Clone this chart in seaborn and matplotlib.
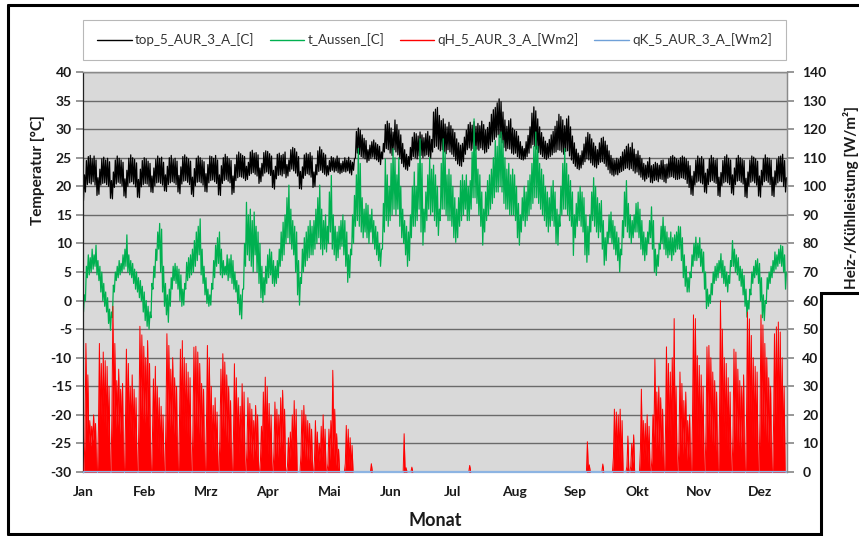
import numpy as np
import matplotlib
matplotlib.use('Agg')
import matplotlib.pyplot as plt
import seaborn as sns
from matplotlib.lines import Line2D
from matplotlib.patches import Rectangle

months = ['Jan', 'Feb', 'Mrz', 'Apr', 'Mai', 'Jun', 'Jul', 'Aug', 'Sep', 'Okt', 'Nov', 'Dez']
temp_ticks = list(range(-30, 45, 5))
power_ticks = list(range(0, 150, 10))
series_names = ['top_5_AUR_3_A_[C]', 't_Aussen_[C]', 'qH_5_AUR_3_A_[Wm2]', 'qK_5_AUR_3_A_[Wm2]']

# operative room temperature, daily max / min (one line = one week)
top_hi = [
    22.0, 24.5, 25.2, 25.4, 24.8, 25.3, 24.6,
    21.5, 23.0, 24.8, 25.1, 24.6, 24.9, 24.3,
    21.0, 22.5, 24.6, 25.3, 24.9, 24.6, 24.2,
    21.3, 22.8, 24.9, 25.5, 25.0, 24.7, 24.1,
    21.2, 23.0, 24.5, 25.0, 24.8, 24.4, 24.0,
    21.8, 23.2, 24.7, 25.3, 24.9, 25.1, 24.2,
    22.0, 23.5, 25.0, 25.4, 24.7, 24.9, 24.4,
    21.9, 23.4, 25.2, 25.5, 25.1, 24.8, 24.4,
    21.6, 23.1, 24.9, 25.3, 25.0, 24.6, 24.3,
    22.2, 23.8, 25.3, 25.2, 24.9, 25.4, 24.6,
    22.0, 23.6, 25.0, 25.6, 25.2, 24.8, 24.5,
    21.8, 23.8, 25.5, 26.0, 25.7, 25.4, 25.2,
    23.5, 24.2, 26.0, 26.3, 25.8, 25.9, 25.5,
    23.2, 24.0, 25.9, 26.2, 26.1, 25.7, 25.3,
    22.8, 23.5, 25.6, 25.8, 25.4, 25.6, 26.0,
    23.8, 24.6, 26.4, 26.8, 26.6, 26.0, 25.2,
    22.6, 23.4, 25.5, 25.8, 25.6, 25.9, 25.3,
    22.5, 23.8, 26.2, 26.9, 26.4, 25.8, 25.5,
    23.6, 24.5, 25.2, 25.0, 24.7, 25.3, 24.9,
    24.0, 24.4, 25.0, 24.6, 25.1, 24.5, 24.2,
    24.8, 29.6, 30.2, 29.8, 29.0, 28.4, 28.0,
    26.4, 27.2, 27.8, 28.1, 27.6, 27.3, 27.0,
    26.0, 27.5, 30.8, 31.4, 31.0, 30.2, 29.5,
    31.6, 30.8, 29.8, 29.0, 27.5, 26.4, 25.6,
    25.2, 26.8, 28.6, 29.4, 29.2, 28.8, 29.5,
    29.0, 28.5, 29.2, 29.6, 28.8, 28.2, 33.0,
    33.5, 33.8, 32.4, 31.5, 31.8, 30.9, 30.4,
    31.2, 30.6, 30.0, 29.4, 28.3, 27.6, 27.2,
    27.5, 28.6, 29.8, 30.8, 31.2, 30.7, 31.3,
    30.5, 31.0, 30.6, 31.4, 30.8, 29.8, 30.3,
    31.2, 32.6, 33.4, 33.8, 34.6, 35.3, 34.8,
    33.0, 31.6, 30.5, 31.5, 31.8, 30.2, 29.8,
    29.6, 28.8, 27.8, 27.0, 26.6, 27.8, 28.9,
    30.4, 32.8, 33.9, 33.2, 31.8, 30.4, 29.4,
    28.6, 27.9, 27.5, 28.2, 29.0, 29.6, 30.5,
    31.4, 32.6, 32.2, 31.6, 30.6, 31.8, 32.3,
    30.4, 28.8, 27.6, 26.5, 25.8, 25.4, 26.2,
    27.4, 28.6, 29.4, 29.1, 28.3, 27.6, 27.0,
    26.4, 27.6, 28.4, 28.6, 27.9, 27.2, 26.2,
    25.4, 24.8, 24.6, 24.9, 24.7, 25.2, 26.0,
    26.4, 27.0, 27.4, 26.8, 27.6, 26.5, 25.6,
    26.2, 25.4, 24.8, 24.0, 23.7, 24.3, 25.0,
    23.6, 23.8, 24.2, 24.0, 23.7, 24.5, 24.6,
    23.8, 23.9, 24.8, 25.2, 25.4, 25.1, 24.8,
    24.6, 25.0, 25.3, 25.1, 24.8, 24.4, 23.6,
    21.8, 22.6, 24.6, 25.3, 24.9, 25.2, 24.7,
    22.3, 23.0, 24.8, 25.4, 25.0, 24.6, 24.8,
    21.6, 22.4, 24.5, 25.2, 25.5, 24.9, 24.6,
    22.0, 23.2, 24.9, 25.4, 25.0, 24.7, 24.5,
    21.4, 22.5, 24.6, 25.3, 25.1, 24.8, 24.4,
    21.8, 22.8, 24.8, 25.5, 25.0, 24.9, 24.6,
    21.6, 22.7, 24.7, 25.2, 25.3, 25.6, 24.5,
    21.5,
]
top_lo = [
    17.5, 19.0, 20.3, 20.6, 20.4, 20.8, 20.2,
    18.4, 18.6, 20.2, 20.5, 20.6, 20.3, 20.0,
    17.9, 17.8, 19.8, 20.4, 20.7, 20.5, 20.1,
    18.3, 18.0, 20.0, 20.6, 20.8, 20.4, 19.9,
    18.1, 18.0, 19.9, 20.3, 20.5, 20.4, 20.0,
    19.0, 18.9, 20.1, 20.6, 20.7, 20.5, 20.2,
    19.2, 19.1, 20.3, 20.6, 20.8, 20.6, 20.3,
    19.0, 18.7, 20.4, 20.9, 21.0, 20.7, 20.3,
    18.6, 18.2, 20.1, 20.7, 20.8, 20.6, 20.2,
    19.1, 19.0, 20.6, 21.0, 21.1, 20.8, 20.5,
    18.5, 18.4, 20.5, 21.0, 21.2, 20.9, 20.6,
    18.6, 18.9, 21.0, 21.5, 21.7, 21.6, 21.4,
    21.0, 21.2, 21.9, 22.2, 22.4, 22.1, 21.8,
    20.5, 20.8, 21.8, 22.3, 22.5, 22.2, 21.9,
    19.8, 19.5, 21.3, 21.9, 22.0, 21.8, 22.2,
    21.5, 21.8, 22.6, 23.0, 22.7, 22.3, 21.8,
    19.6, 19.5, 21.4, 21.9, 22.2, 22.0, 21.6,
    19.8, 20.0, 22.0, 22.6, 22.8, 22.4, 22.1,
    21.8, 22.0, 22.6, 22.8, 22.5, 22.7, 22.4,
    22.2, 22.4, 22.6, 22.5, 22.7, 22.3, 22.0,
    22.8, 25.0, 25.8, 25.6, 25.2, 25.0, 24.8,
    24.2, 24.5, 24.9, 25.1, 24.8, 24.6, 24.3,
    23.8, 24.8, 26.0, 26.6, 26.4, 25.8, 25.4,
    26.4, 26.0, 25.5, 24.8, 24.0, 23.4, 23.0,
    22.8, 23.5, 24.6, 25.2, 25.0, 24.8, 25.3,
    25.4, 25.0, 25.3, 25.5, 25.2, 24.9, 26.0,
    26.8, 27.0, 26.5, 26.2, 26.4, 26.0, 25.7,
    26.4, 26.0, 25.6, 25.2, 24.5, 23.9, 23.6,
    23.5, 24.3, 25.6, 26.4, 26.7, 26.3, 26.6,
    26.2, 26.5, 26.3, 26.7, 26.4, 25.8, 26.0,
    26.6, 27.2, 27.8, 28.2, 28.6, 29.0, 28.5,
    27.6, 26.8, 26.2, 26.6, 26.5, 25.8, 25.6,
    25.8, 25.2, 24.9, 24.7, 24.6, 24.8, 25.2,
    25.8, 26.7, 27.3, 27.0, 26.5, 25.9, 25.6,
    25.2, 24.9, 24.7, 25.0, 25.2, 25.5, 25.9,
    26.0, 26.4, 26.3, 26.0, 25.6, 26.1, 26.2,
    25.3, 24.6, 24.0, 23.5, 23.1, 22.9, 23.2,
    23.8, 24.3, 24.8, 24.6, 24.1, 23.7, 23.4,
    23.2, 23.8, 24.2, 24.3, 24.0, 23.5, 22.9,
    22.3, 22.0, 21.8, 22.1, 22.0, 22.4, 22.6,
    22.8, 23.1, 23.2, 22.9, 23.1, 22.7, 22.3,
    22.5, 22.0, 21.6, 21.2, 20.9, 21.3, 21.6,
    20.7, 20.6, 21.0, 21.1, 20.8, 21.3, 21.2,
    20.8, 20.6, 21.4, 21.6, 21.7, 21.5, 21.2,
    21.2, 21.3, 21.5, 21.4, 21.2, 20.5, 19.8,
    18.6, 18.4, 20.2, 20.7, 20.9, 20.6, 20.4,
    19.0, 18.8, 20.3, 20.8, 21.0, 20.7, 20.5,
    18.4, 18.2, 20.1, 20.6, 20.8, 20.6, 20.3,
    18.8, 18.5, 20.3, 20.9, 21.0, 20.7, 20.4,
    18.2, 18.0, 20.0, 20.7, 20.9, 20.6, 20.2,
    18.3, 18.1, 20.2, 20.8, 21.0, 20.7, 20.3,
    18.4, 18.2, 20.2, 20.6, 20.9, 20.8, 20.0,
    19.0,
]

# outdoor air temperature, daily max / min
aussen_hi = [
    1, 6, 8, 7.5, 9, 8, 9.7,
    7, 6, 5, 3, 1.5, 0.5, -1.5,
    -2, 2.7, 5, 6, 7, 6.5, 8,
    9, 11.5, 8, 7, 6.5, 5.5, 5,
    4, 3.5, 2.5, 1.5, 0, -1, -2,
    3, 6, 9, 12, 13.5, 12.5, 6,
    3, 1, 2, 4, 6, 6.5, 6,
    5.5, 4.5, 2, 3, 6.7, 7.5, 8,
    9, 10.5, 12, 13, 14.3, 9, 6,
    4, 2, 1, 3, 7, 9.7, 11,
    12, 9, 7, 6, 8, 7.3, 8,
    7, 5, 3.5, 2.7, 1, 2, 10,
    17.2, 15, 16, 14, 15.5, 13, 12,
    10, 6, 4, 6, 8, 9, 8.5,
    7, 6, 7, 9, 12, 13.7, 15,
    18, 20.2, 16, 14, 13, 12, 7,
    4, 9, 11, 12, 13, 14, 13,
    14, 16, 18, 20.2, 16, 14, 15,
    13, 19, 21.9, 15, 13, 12, 13,
    14, 15, 14, 12, 8, 9, 15,
    18.4, 22, 26.6, 24, 18, 16, 17,
    16.7, 15, 16, 14, 13, 12, 10,
    9, 17, 24.8, 22, 20, 24, 26.6,
    25, 22, 25, 20, 16, 14, 13,
    12, 15, 20, 22.5, 20, 24, 28.3,
    24, 16, 19, 22, 25, 23, 23.7,
    22, 20, 16, 24, 28.3, 26, 22,
    23, 22, 20, 18, 16, 18, 21,
    22, 21, 22, 20, 21, 26, 31.8,
    27, 23, 22, 19, 16, 19, 21,
    22, 23, 25, 28, 27, 29, 29.5,
    28, 25, 23, 24, 22, 23, 22,
    20, 17, 15, 18, 20, 19, 21,
    22, 24, 27, 29.5, 27, 24, 23,
    22, 20, 19, 18, 20, 21, 19,
    16, 15, 20, 24, 26.6, 24, 22,
    21, 19, 15, 17, 19, 20, 19,
    18, 15, 13, 15, 19, 21.5, 20,
    18, 17, 17.5, 14, 11, 12, 15,
    15.5, 14, 13, 12, 11, 9, 14,
    19, 21, 17, 15, 14, 15, 17,
    17.2, 16, 14, 12, 11, 12, 14,
    16.4, 14, 9, 8, 10, 13, 14.6,
    13, 12, 11, 12, 11, 11.5, 12,
    13, 12.9, 11, 8, 6, 4, 5,
    8, 10, 11.1, 10, 11, 9, 8.5,
    5, 2, 1, 3, 5, 6, 6.5,
    7, 8.2, 7, 6, 5, 4.4, 7,
    10.5, 9, 8, 7.5, 6, 5.5, 4.4,
    2, 0, 2, 5, 6, 7, 7.3,
    6.5, 4, 1, 0, 4, 5, 6,
    7, 8.5, 8, 9, 9.7, 9.5, 8,
    5,
]
aussen_lo = [
    -2, 0, 4, 4.5, 5, 5.5, 6,
    4.5, 3.5, 1.5, 0, -1, -2, -4,
    -5.2, -3, 1.5, 3.5, 4, 4.5, 5,
    5.5, 6, 5, 4.5, 4, 3, 2,
    1.5, 0.5, 0, -2, -3.5, -4.5, -5,
    -3, 2, 4, 7, 9, 5, 1.5,
    -1, -2.5, -3.8, -1, 2, 3.5, 3,
    2, 0, -1, -0.8, 2, 3.5, 4,
    4.5, 5, 6, 7, 8, 4.5, 3,
    1, -0.5, -1, -0.8, 2, 4, 6,
    6.5, 4.5, 4, 4.5, 4.5, 3.5, 4,
    3, 2, 1.5, -0.5, -2.5, -3.2, 2,
    6, 8, 7, 6, 5, 8, 5,
    3, 0.5, -0.3, 1, 3, 4, 4.5,
    3, 2.5, 3, 4, 6, 7, 8,
    10, 11, 10, 9, 8, 5, 1,
    -0.8, 3, 5, 6, 7, 7.5, 8,
    8, 9, 10, 11, 9, 8, 9,
    8.5, 10, 12, 9, 8, 7, 7.5,
    9, 9.5, 8, 6, 3.2, 4, 8,
    10, 13, 14, 13, 12, 11, 12,
    11, 10, 12, 10, 9, 8, 7,
    6, 9, 12, 14, 13, 14, 15,
    16, 15, 16, 13, 11, 10, 8,
    6, 7, 11, 13, 13, 14, 16,
    12, 9.7, 12, 14, 16, 15, 15.5,
    14, 13, 11.4, 14, 16, 16, 15,
    14, 14, 13, 11, 10.2, 11, 13,
    14, 15, 16, 14, 14, 16, 18,
    18, 17, 15, 13, 9.7, 12, 14,
    15, 16, 17, 18, 19, 19, 20,
    19, 17, 16, 16, 15, 15, 15,
    14, 11, 9.7, 12, 14, 13, 14,
    15, 16, 17, 18, 18, 17, 16,
    15, 14, 13, 12, 13, 14, 13,
    10, 9.7, 13, 15, 16, 16, 15,
    14, 13, 7.9, 11, 13, 14, 13,
    12, 8, 6.7, 8, 12, 14, 13,
    12, 11, 12, 9, 6.2, 7, 10,
    11, 10, 9, 8, 7, 5, 8,
    11, 13, 12, 11, 10, 11, 12,
    12, 11, 9, 8, 7, 8, 10,
    11, 9, 5, 4.4, 6, 9, 10,
    9, 8, 7.5, 8, 7, 8, 8.5,
    9, 9, 7, 4, 2.5, 1.5, 1.5,
    4, 6, 7, 7, 7.5, 6, 5,
    2, -1.4, -1, -0.5, 1, 3, 3.5,
    4, 5, 4, 3, 2.5, 1.5, 3,
    6, 6, 5, 4.5, 3.5, 2.5, 1,
    -1, -2.9, -1.5, 1, 3, 4, 4.5,
    3, 0, -3, -3.5, -0.5, 2, 3,
    4, 5, 5.5, 6, 6.5, 6, 5,
    2,
]

# heating power, daily peak [W/m2]
heat_peak = [
    0, 45, 34, 18, 16, 20, 17,
    0, 45, 38, 42, 39, 37, 30,
    0, 58, 45, 32, 36, 29, 31,
    0, 43, 38, 30, 34, 29, 26,
    0, 51, 48, 44, 40, 46, 38,
    0, 32.6, 37, 30, 26, 23, 20,
    0, 48.4, 44.3, 36, 40, 33, 30,
    0, 43, 46, 40, 38, 35, 33,
    0, 43.7, 44, 42, 38, 31, 29,
    0, 44.3, 40, 30, 23.3, 26, 21,
    0, 36, 41.4, 38.5, 34, 30, 25,
    0, 37.9, 33, 26, 23, 30.9, 28,
    0, 26, 24, 22, 18, 23.3, 20,
    0, 16, 28, 33.2, 30, 24, 20,
    0, 24.5, 22, 20, 26, 28.6, 22,
    0, 12, 14, 20, 25, 22, 0,
    0, 21.6, 23.3, 20, 18, 17, 15,
    0, 18, 14, 10, 16, 20, 15,
    0, 15, 18, 35.6, 22, 13.4, 8,
    0, 0, 0, 16.3, 15, 12, 9.3,
    0, 0, 0, 0, 0, 0, 0,
    0, 0, 2.9, 0, 0, 0, 0,
    0, 0, 0, 0, 0, 0, 0,
    0, 0, 0, 0, 0, 13.4, 1.5,
    0, 0, 1.7, 0, 0, 0, 0,
    0, 0, 0, 0, 0, 0, 0,
    0, 0, 0, 0, 0, 0, 0,
    0, 0, 0, 0, 0, 0, 0,
    0, 0, 0, 0, 2.3, 0, 0,
    0, 0, 0, 0, 0, 0, 0,
    0, 0, 0, 0, 0, 0, 0,
    0, 0, 0, 0, 0, 0, 0,
    0, 0, 0, 0, 0, 0, 0,
    0, 0, 0, 0, 0, 0, 0,
    0, 0, 0, 0, 0, 0, 0,
    0, 0, 0, 0, 0, 0, 0,
    0, 0, 0, 0, 0, 0, 0,
    0, 0, 10.6, 2.5, 0, 0, 0,
    0, 0, 0, 2.8, 0, 0, 0,
    0, 0, 22, 21, 20, 22, 18,
    0, 0, 12.6, 0, 10, 13, 0,
    0, 0, 29, 18, 17, 20, 16,
    0, 20, 39.5, 28, 30, 26, 22,
    0, 43.8, 38, 35, 40, 53.7, 30,
    0, 35, 31, 25, 28, 18, 20,
    0, 55, 53.7, 40.7, 37.3, 34, 30,
    0, 43.8, 44.3, 40, 35, 32, 28,
    0, 60, 50, 40, 38, 33, 28,
    0, 43, 42, 36, 32, 30, 34,
    0, 56, 53.6, 47.8, 40, 37, 35,
    0, 55, 51.5, 45, 40, 33, 30,
    0, 48.4, 50.8, 52.5, 49, 40, 30,
    0,
]
# heating power, daily low [W/m2]
heat_low = [
    0, 12, 14, 10, 9, 11, 10,
    0, 15, 16, 18, 17, 15, 12,
    0, 20, 18, 15, 16, 13, 14,
    0, 16, 15, 13, 14, 12, 10,
    0, 18, 20, 18, 17, 19, 15,
    0, 12, 14, 10, 8, 6, 5,
    0, 18, 17, 15, 16, 13, 12,
    0, 16, 17, 15, 14, 13, 12,
    0, 15, 16, 15, 13, 11, 10,
    0, 16, 14, 10, 7, 8, 6,
    0, 12, 15, 14, 12, 10, 8,
    0, 12, 10, 8, 6, 10, 9,
    0, 8, 7, 6, 4, 7, 5,
    0, 4, 8, 11, 9, 6, 5,
    0, 7, 6, 5, 8, 9, 6,
    0, 2, 3, 5, 7, 5, 0,
    0, 6, 7, 5, 4, 4, 3,
    0, 4, 3, 2, 4, 5, 3,
    0, 3, 4, 8, 5, 2, 1,
    0, 0, 0, 3, 3, 2, 1,
    0, 0, 0, 0, 0, 0, 0,
    0, 0, 0, 0, 0, 0, 0,
    0, 0, 0, 0, 0, 0, 0,
    0, 0, 0, 0, 0, 0, 0,
    0, 0, 0, 0, 0, 0, 0,
    0, 0, 0, 0, 0, 0, 0,
    0, 0, 0, 0, 0, 0, 0,
    0, 0, 0, 0, 0, 0, 0,
    0, 0, 0, 0, 0, 0, 0,
    0, 0, 0, 0, 0, 0, 0,
    0, 0, 0, 0, 0, 0, 0,
    0, 0, 0, 0, 0, 0, 0,
    0, 0, 0, 0, 0, 0, 0,
    0, 0, 0, 0, 0, 0, 0,
    0, 0, 0, 0, 0, 0, 0,
    0, 0, 0, 0, 0, 0, 0,
    0, 0, 0, 0, 0, 0, 0,
    0, 0, 0, 0, 0, 0, 0,
    0, 0, 0, 0, 0, 0, 0,
    0, 0, 5, 5, 4, 5, 3,
    0, 0, 2, 0, 2, 3, 0,
    0, 0, 8, 4, 4, 5, 3,
    0, 5, 12, 8, 9, 7, 5,
    0, 14, 12, 10, 12, 16, 8,
    0, 10, 9, 6, 8, 4, 5,
    0, 18, 17, 13, 12, 10, 8,
    0, 14, 15, 12, 10, 9, 7,
    0, 19, 16, 12, 11, 9, 7,
    0, 13, 12, 10, 9, 8, 10,
    0, 18, 17, 15, 12, 11, 10,
    0, 18, 16, 14, 12, 10, 8,
    0, 15, 16, 17, 15, 12, 8,
    0,
]
# cooling power: zero the whole year
cool_power = [0.0] * 365

days = np.arange(len(top_hi))


def day_path(first, second, off=(0.25, 0.75)):
    # two samples per day -> hourly-looking zigzag
    x = np.column_stack([days + off[0], days + off[1]]).ravel()
    y = np.column_stack([first, second]).ravel()
    return x, y


sns.set_theme(style='white')
plt.rcParams['font.family'] = ['Lato', 'DejaVu Sans']
text_col = '#1a1a1a'

fig = plt.figure(figsize=(8.59, 5.36), dpi=100)
ax = fig.add_axes([83 / 859, 64 / 536, 704 / 859, 400 / 536])
ax2 = ax.twinx()

ax.set_facecolor('#d9d9d9')
ax.set_axisbelow(True)
ax.yaxis.grid(True, color='#6a6a6a', lw=1.0)
ax.xaxis.grid(False)

x, y = day_path(top_lo, top_hi)
sns.lineplot(x=x, y=y, ax=ax, color='black', lw=0.9, sort=False, estimator=None)
x, y = day_path(aussen_lo, aussen_hi)
sns.lineplot(x=x, y=y, ax=ax, color='#00b050', lw=0.9, sort=False, estimator=None)

x, y = day_path(heat_low, heat_peak, off=(0.0, 0.5))
ax2.fill_between(x, 0, y, color='#ff0000', lw=0)
sns.lineplot(x=x, y=y, ax=ax2, color='#ff0000', lw=0.7, sort=False, estimator=None)
sns.lineplot(x=days + 0.5, y=cool_power, ax=ax2, color='#8db4e2', lw=1.6, sort=False, estimator=None)

ax.set_xlim(0, 365)
ax.set_ylim(-30, 40)
ax2.set_ylim(0, 140)

month_pos = np.arange(12) * 31.92
ax.set_xticks(month_pos, months, fontweight='bold', fontsize=10, color=text_col)
ax.set_yticks(temp_ticks, [str(t) for t in temp_ticks], fontweight='bold', fontsize=10, color=text_col)
ax2.set_yticks(power_ticks, [str(t) for t in power_ticks], fontweight='bold', fontsize=10, color=text_col)
ax.tick_params(axis='x', direction='out', length=4, color='#8ea2c2', pad=6)
ax.tick_params(axis='y', direction='out', length=5, color='#8a8a8a', pad=3)
ax2.tick_params(axis='y', direction='out', length=5, color='#8a8a8a', pad=6)

for a in (ax, ax2):
    for s in a.spines.values():
        s.set_color('#8a8a8a')
        s.set_linewidth(0.9)
ax.spines['left'].set_color('#222222')
ax2.spines['left'].set_visible(False)
ax.spines['bottom'].set_color('#8db4e2')
ax2.spines['bottom'].set_visible(False)

ax.set_xlabel('Monat', fontweight='bold', fontsize=13, color=text_col)
ax.xaxis.set_label_coords(0.5, -0.1)
ax.set_ylabel('Temperatur [°C]', fontweight='bold', fontsize=11, color=text_col)
ax.yaxis.set_label_coords(-0.054, 0.755)
ax2.set_ylabel('Heiz-/Kühlleistung [W/m²]', fontweight='bold', fontsize=11, color=text_col)
ax2.yaxis.set_label_coords(1.08, 0.685)

handles = [
    Line2D([], [], color='black', lw=1.0),
    Line2D([], [], color='#00b050', lw=1.0),
    Line2D([], [], color='#ff0000', lw=1.0),
    Line2D([], [], color='#6fa0d8', lw=1.0),
]
leg = fig.legend(handles, series_names, loc='center',
                 bbox_to_anchor=(83 / 859, 1 - 62 / 536, 703 / 859, 44 / 536),
                 mode='expand', ncol=4, frameon=True, fancybox=False,
                 edgecolor='#a6a6a6', fontsize=9.6, handlelength=2.6,
                 handletextpad=0.25, borderpad=1.05, borderaxespad=0)
leg.get_frame().set_linewidth(0.8)
for t in leg.get_texts():
    t.set_color('#333333')

# outer chart frame, plus the white box covering the lower right corner
fw = 2.2
fig.add_artist(Line2D([8 / 859, 8 / 859], [1 - 5 / 536, 1 - 534 / 536], color='black', lw=fw, transform=fig.transFigure))
fig.add_artist(Line2D([8 / 859, 1.0], [1 - 5 / 536, 1 - 5 / 536], color='black', lw=fw, transform=fig.transFigure))
fig.add_artist(Line2D([8 / 859, 821 / 859], [1 - 534 / 536, 1 - 534 / 536], color='black', lw=fw, transform=fig.transFigure))
fig.add_artist(Rectangle((821 / 859, -0.05), 0.2, 0.05 + (536 - 293) / 536, transform=fig.transFigure,
                         facecolor='white', edgecolor='black', lw=fw, zorder=20))

fig.savefig('out.png', dpi=100)
